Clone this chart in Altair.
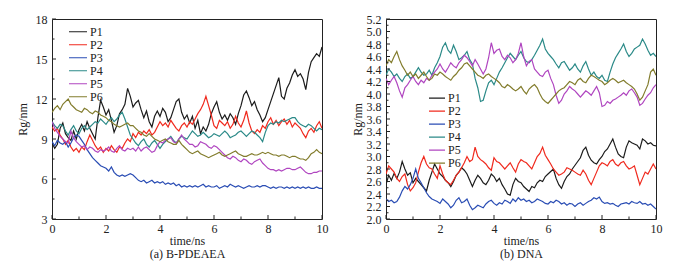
import altair as alt
import pandas as pd

T = [round(i * 0.1, 1) for i in range(101)]
NAMES = ["P1", "P2", "P3", "P4", "P5", "P6"]
COLORS = ["#1c1c1c", "#f02a1e", "#2a4db4", "#2b8a88", "#b046c0", "#827c2c"]

# (a) B-PDEAEA, Rg/nm, 0..10 ns every 0.1 ns
A_P1 = [8.7, 8.3, 8.6, 9.8, 10.2, 9.4, 9.1, 8.9, 9.6, 9.0, 9.7, 10.1, 9.6, 10.3, 9.8, 9.4, 9.0, 10.6, 11.9, 11.4,
        10.8, 11.2, 10.4, 9.5, 10.0, 10.9, 11.2, 11.6, 12.8, 12.2, 11.4, 11.7, 11.9, 11.2, 10.6, 11.1, 10.3, 9.9, 10.7, 11.1,
        10.7, 11.3, 11.0, 10.3, 10.6, 11.2, 11.8, 12.0, 11.0, 10.5, 10.8, 10.2, 10.7, 9.8, 10.4, 9.4, 9.9, 9.6, 10.1, 10.9,
        11.4, 11.8, 11.0, 10.5, 10.8, 10.4, 10.9, 10.6, 10.1, 10.9, 11.5, 12.3, 12.6, 12.1, 11.5, 11.8, 11.2, 10.8, 10.3, 10.6,
        11.2, 11.8, 12.4, 13.0, 13.6, 12.2, 12.0, 12.8, 13.2, 13.8, 14.2, 13.7, 13.9, 13.5, 12.7, 14.0, 14.8, 15.1, 15.4, 15.2,
        15.9]
A_P2 = [9.9, 9.6, 9.8, 9.3, 9.0, 8.6, 8.9, 8.4, 8.1, 8.3, 8.0, 8.4, 8.2, 8.8, 9.3, 8.9, 8.5, 8.2, 8.4, 8.0,
        8.3, 8.1, 8.5, 8.2, 8.0, 8.4, 8.3, 8.7, 9.0, 8.8, 9.4, 9.1, 9.5, 9.3, 9.6, 9.4, 9.7, 9.3, 9.5, 9.9,
        10.3, 10.0, 10.2, 9.9, 10.4, 10.1, 9.8, 9.6, 10.0, 10.2, 9.9, 10.3, 10.1, 10.5, 10.9, 11.2, 11.6, 12.2, 11.5, 10.8,
        10.0, 9.8, 10.4, 10.2, 10.0, 10.3, 9.8, 10.1, 10.7, 10.2, 9.9, 10.4, 11.1, 10.2, 9.6, 9.4, 9.7, 9.5, 10.0, 9.8,
        10.3, 10.6, 10.1, 10.4, 10.0, 10.3, 10.5, 10.1, 10.4, 9.9, 10.2, 10.0, 9.8, 9.4, 9.1, 9.6, 9.8, 9.5, 10.0, 10.3,
        9.8]
A_P3 = [8.8, 8.5, 8.9, 8.7, 8.6, 8.8, 8.4, 8.7, 9.1, 9.3, 9.2, 8.9, 8.6, 8.2, 7.9, 7.6, 7.4, 7.2, 7.0, 6.9,
        6.8, 6.6, 6.9, 6.5, 6.3, 6.2, 6.3, 6.2, 6.3, 6.4, 6.3, 6.1, 5.9, 5.8, 5.9, 5.7, 5.8, 5.9, 5.7, 5.8,
        5.7, 5.8, 5.6, 5.7, 5.6, 5.7, 5.5, 5.6, 5.4, 5.5, 5.4, 5.5, 5.4, 5.5, 5.4, 5.5, 5.6, 5.4, 5.5, 5.4,
        5.4, 5.5, 5.3, 5.4, 5.5, 5.4, 5.6, 5.5, 5.4, 5.5, 5.4, 5.3, 5.4, 5.5, 5.4, 5.4, 5.5, 5.4, 5.5, 5.5,
        5.4, 5.3, 5.4, 5.3, 5.4, 5.4, 5.3, 5.4, 5.3, 5.4, 5.3, 5.4, 5.3, 5.4, 5.3, 5.4, 5.3, 5.3, 5.4, 5.3,
        5.3]
A_P4 = [10.3, 10.0, 9.8, 10.1, 10.0, 9.6, 9.3, 9.7, 10.0, 9.6, 9.4, 9.8, 10.0, 9.7, 9.9, 10.1, 10.3, 10.2, 10.5, 10.3,
        10.1, 10.4, 10.6, 10.3, 10.5, 10.8, 11.0, 10.5, 9.9, 9.3, 9.0, 8.7, 8.5, 8.8, 9.0, 8.6, 8.4, 8.7, 8.9, 8.6,
        8.3, 8.6, 8.8, 9.0, 9.2, 8.9, 8.7, 9.0, 9.2, 9.1, 9.0, 9.3, 9.6, 9.4, 9.2, 9.3, 9.5, 9.3, 9.1, 9.2,
        9.4, 9.3, 9.2, 9.4, 9.6, 9.4, 9.1, 9.2, 9.3, 9.5, 9.6, 9.4, 9.2, 9.4, 9.6, 9.5, 9.3, 9.1, 8.8, 9.5,
        10.0, 10.2, 10.1, 10.3, 10.2, 10.4, 10.3, 10.4, 10.5, 10.6, 10.6, 10.3, 10.1, 10.0, 9.9, 10.1, 10.0, 9.8, 9.6, 9.8,
        9.7]
A_P5 = [10.3, 9.8, 9.5, 9.2, 9.0, 8.8, 8.7, 9.6, 9.1, 8.8, 8.6, 8.4, 8.5, 8.2, 8.4, 8.3, 8.1, 8.0, 8.2, 8.1,
        8.2, 8.4, 8.1, 8.0, 8.3, 8.5, 8.2, 8.1, 8.3, 8.2, 8.3, 8.1, 8.4, 8.1, 8.3, 8.4, 8.2, 8.0, 8.1, 8.5,
        8.8, 8.7, 8.9, 9.0, 9.1, 8.8, 8.7, 9.0, 9.3, 9.0, 8.8, 8.6, 8.6, 8.4, 8.5, 8.8, 8.7, 8.6, 8.4, 8.3,
        8.5, 8.4, 8.2, 8.0, 7.8, 7.6, 7.5, 7.7, 7.6, 7.4, 7.3, 7.5, 7.4, 7.2, 7.1, 7.3, 7.4, 7.5, 7.2, 7.0,
        6.8, 6.7, 6.7, 6.6, 6.7, 6.6, 6.7, 6.8, 6.8, 6.7, 6.7, 6.8, 6.9, 6.7, 6.5, 6.4, 6.4, 6.5, 6.5, 6.6,
        6.6]
A_P6 = [11.0, 11.3, 11.5, 11.2, 11.6, 11.8, 12.0, 11.6, 11.4, 11.2, 11.1, 11.0, 11.3, 11.2, 11.0, 10.9, 11.1, 11.0, 10.8, 10.7,
        10.6, 10.4, 10.3, 10.1, 10.0, 9.9, 10.0, 10.1, 10.2, 10.0, 10.0, 9.8, 9.6, 9.5, 9.3, 9.2, 9.4, 9.2, 9.0, 8.9,
        8.8, 8.9, 9.0, 8.8, 8.7, 8.6, 8.6, 8.9, 8.6, 8.4, 8.2, 8.0, 7.9, 8.0, 8.1, 7.9, 7.8, 7.7, 7.6, 7.7,
        7.8, 7.9, 8.0, 7.8, 7.7, 7.8, 7.9, 8.0, 8.1, 7.9, 7.8, 7.7, 7.7, 7.8, 7.9, 7.8, 7.8, 7.9, 8.0, 7.9,
        8.0, 7.9, 7.8, 7.8, 7.7, 7.8, 7.8, 7.7, 7.6, 7.7, 7.7, 7.6, 7.5, 7.5, 7.4, 7.6, 7.9, 8.0, 8.2, 8.0,
        7.9]

# (b) DNA, Rg/nm
B_P1 = [2.55, 2.70, 2.62, 2.73, 2.65, 2.75, 2.92, 2.80, 2.70, 2.74, 2.58, 2.65, 2.60, 2.55, 2.50, 2.45, 2.62, 2.75, 2.88, 2.80,
        2.72, 2.68, 2.62, 2.58, 2.52, 2.60, 2.70, 2.75, 2.82, 2.78, 2.72, 2.62, 2.52, 2.62, 2.70, 2.65, 2.58, 2.55, 2.62, 2.72,
        2.68, 2.60, 2.65, 2.55, 2.48, 2.40, 2.38, 2.55, 2.65, 2.60, 2.58, 2.52, 2.48, 2.44, 2.52, 2.50, 2.58, 2.62, 2.60, 2.68,
        2.72, 2.76, 2.80, 2.65, 2.55, 2.49, 2.60, 2.68, 2.72, 2.80, 2.86, 2.92, 2.98, 3.10, 3.15, 3.02, 2.94, 2.90, 2.88, 2.95,
        3.00, 3.08, 3.12, 3.20, 3.28, 3.15, 3.04, 3.00, 2.98, 3.15, 3.25, 3.22, 3.20, 3.18, 3.12, 3.28, 3.25, 3.20, 3.22, 3.18,
        3.17]
B_P2 = [2.72, 2.85, 2.80, 2.75, 2.65, 2.60, 2.68, 2.72, 2.55, 2.45, 2.50, 2.58, 2.75, 2.90, 3.00, 2.88, 2.82, 2.80, 2.72, 2.65,
        2.85, 2.72, 2.62, 2.58, 2.55, 2.62, 2.70, 2.75, 2.82, 2.90, 3.00, 2.92, 2.95, 3.15, 3.00, 2.95, 2.92, 2.88, 2.82, 2.78,
        2.98, 2.92, 2.90, 2.85, 2.80, 2.85, 2.90, 2.82, 2.75, 2.88, 2.95, 2.92, 2.90, 2.85, 2.80, 2.90, 3.00, 3.05, 3.15, 3.02,
        2.95, 2.88, 2.80, 2.75, 2.70, 2.72, 2.75, 2.82, 2.80, 2.78, 2.75, 2.72, 2.70, 2.78, 2.72, 2.62, 2.55, 2.65, 2.75, 2.85,
        2.90, 2.88, 2.85, 2.92, 2.95, 2.88, 2.85, 2.90, 2.92, 2.85, 2.80, 2.82, 2.85, 2.70, 2.55, 2.65, 2.75, 2.72, 2.80, 2.88,
        2.80]
B_P3 = [2.32, 2.28, 2.30, 2.26, 2.28, 2.35, 2.45, 2.52, 2.48, 2.55, 2.65, 2.80, 2.65, 2.58, 2.50, 2.42, 2.36, 2.32, 2.30, 2.28,
        2.25, 2.32, 2.28, 2.24, 2.18, 2.22, 2.30, 2.34, 2.26, 2.28, 2.32, 2.22, 2.15, 2.18, 2.22, 2.20, 2.18, 2.24, 2.28, 2.30,
        2.25, 2.22, 2.26, 2.24, 2.30, 2.28, 2.25, 2.32, 2.28, 2.34, 2.30, 2.32, 2.28, 2.30, 2.26, 2.28, 2.32, 2.30, 2.28, 2.25,
        2.24, 2.28, 2.26, 2.30, 2.28, 2.24, 2.26, 2.22, 2.25, 2.24, 2.20, 2.24, 2.26, 2.22, 2.25, 2.28, 2.30, 2.34, 2.32, 2.35,
        2.28, 2.25, 2.26, 2.24, 2.25, 2.22, 2.20, 2.24, 2.25, 2.26, 2.24, 2.28, 2.26, 2.25, 2.28, 2.24, 2.25, 2.22, 2.24, 2.20,
        2.16]
B_P4 = [4.30, 4.40, 4.35, 4.28, 4.32, 4.25, 4.20, 4.28, 4.32, 4.25, 4.28, 4.35, 4.42, 4.35, 4.30, 4.32, 4.38, 4.30, 4.42, 4.50,
        4.60, 4.75, 4.82, 4.70, 4.65, 4.78, 4.68, 4.55, 4.58, 4.62, 4.68, 4.55, 4.48, 4.25, 4.10, 3.88, 3.90, 4.05, 4.18, 4.22,
        4.15, 4.25, 4.35, 4.42, 4.50, 4.58, 4.65, 4.60, 4.55, 4.62, 4.68, 4.58, 4.52, 4.50, 4.55, 4.62, 4.70, 4.78, 4.88, 4.72,
        4.65, 4.60, 4.55, 4.48, 4.42, 4.50, 4.52, 4.45, 4.38, 4.42, 4.48, 4.40, 4.35, 4.45, 4.52, 4.40, 4.30, 4.35, 4.28, 4.25,
        4.30, 4.22, 4.20, 4.35, 4.48, 4.58, 4.65, 4.72, 4.80, 4.68, 4.60, 4.65, 4.72, 4.75, 4.78, 4.88, 4.80, 4.70, 4.62, 4.65,
        4.60]
B_P5 = [4.25, 4.15, 4.22, 4.28, 4.18, 4.05, 3.95, 4.10, 4.15, 4.22, 4.28, 4.20, 4.15, 4.22, 4.18, 4.25, 4.22, 4.30, 4.35, 4.40,
        4.48, 4.40, 4.35, 4.42, 4.50, 4.45, 4.42, 4.50, 4.55, 4.62, 4.58, 4.52, 4.45, 4.55, 4.48, 4.40, 4.32, 4.40, 4.58, 4.82,
        4.65, 4.70, 4.72, 4.60, 4.55, 4.62, 4.58, 4.50, 4.55, 4.65, 4.82, 4.60, 4.45, 4.52, 4.55, 4.40, 4.35, 4.30, 4.28, 4.35,
        4.38, 4.25, 4.15, 3.98, 3.85, 3.90, 4.00, 4.05, 4.12, 4.08, 4.05, 4.00, 3.95, 4.00, 4.05, 4.02, 3.98, 4.05, 4.12, 4.02,
        3.80, 3.82, 3.88, 3.85, 3.90, 3.92, 3.95, 3.98, 4.02, 3.98, 4.05, 4.08, 4.02, 3.95, 3.82, 3.85, 3.92, 3.98, 4.02, 4.10,
        4.15]
B_P6 = [4.45, 4.55, 4.50, 4.60, 4.68, 4.55, 4.45, 4.38, 4.30, 4.35, 4.28, 4.32, 4.25, 4.30, 4.35, 4.28, 4.22, 4.25, 4.32, 4.30,
        4.35, 4.32, 4.28, 4.25, 4.22, 4.28, 4.32, 4.38, 4.42, 4.48, 4.50, 4.45, 4.40, 4.35, 4.30, 4.28, 4.25, 4.30, 4.32, 4.28,
        4.25, 4.22, 4.18, 4.12, 4.10, 4.15, 4.12, 4.08, 4.05, 4.08, 4.12, 4.05, 4.00, 4.08, 4.12, 4.15, 4.10, 4.00, 3.92, 3.88,
        3.85, 3.90, 3.95, 4.00, 4.05, 4.08, 4.10, 4.15, 4.20, 4.18, 4.15, 4.22, 4.25, 4.20, 4.18, 4.25, 4.30, 4.28, 4.25, 4.22,
        4.20, 4.15, 4.18, 4.22, 4.25, 4.22, 4.18, 4.20, 4.22, 4.18, 4.15, 4.12, 4.08, 4.00, 3.90, 3.95, 4.05, 4.15, 4.35, 4.40,
        4.30]

X_MAJOR = [0, 2, 4, 6, 8, 10]
X_MINOR = [1, 3, 5, 7, 9]
A_Y_MAJOR = [3, 6, 9, 12, 15, 18]
A_Y_MINOR = [4.5, 7.5, 10.5, 13.5, 16.5]
B_Y_MAJOR = [2.0, 2.2, 2.4, 2.6, 2.8, 3.0, 3.2, 3.4, 3.6, 3.8, 4.0, 4.2, 4.4, 4.6, 4.8, 5.0, 5.2]
B_Y_MINOR = [2.1, 2.3, 2.5, 2.7, 2.9, 3.1, 3.3, 3.5, 3.7, 3.9, 4.1, 4.3, 4.5, 4.7, 4.9, 5.1]

FONT = "Liberation Serif"
W, H = 270, 200


def long_df(series):
    rows = []
    for name, vals in zip(NAMES, series):
        for t, v in zip(T, vals):
            rows.append({"t": t, "v": v, "s": name})
    return pd.DataFrame(rows)


def panel(series, ydom, ymajor, yminor, yfmt, caption, lx, ly, symsize, ytp):
    xs = alt.Scale(domain=[0, 10], nice=False)
    ys = alt.Scale(domain=ydom, nice=False, zero=False)
    xax = alt.Axis(values=X_MAJOR, format="d", title=["time/ns", caption],
                   labelFlush=False, labelPadding=4, titlePadding=1, titleLineHeight=13)
    yax = alt.Axis(values=ymajor, format=yfmt, title="Rg/nm", labelPadding=5, titlePadding=ytp)
    lines = alt.Chart(long_df(series)).mark_line(strokeWidth=1.2, clip=True).encode(
        x=alt.X("t:Q", scale=xs, axis=xax),
        y=alt.Y("v:Q", scale=ys, axis=yax),
        color=alt.Color("s:N", scale=alt.Scale(domain=NAMES, range=COLORS),
                        legend=alt.Legend(orient="none", legendX=lx, legendY=ly, title=None,
                                          symbolType="stroke", symbolSize=symsize, symbolStrokeWidth=1.2,
                                          labelFont=FONT, labelFontSize=12, labelColor="#222",
                                          clipHeight=10.7, rowPadding=0, labelOffset=2, padding=0)),
        order=alt.Order("t:Q"),
    )

    def xt(vals, ln):
        return alt.Chart(pd.DataFrame({"t": vals})).mark_rule(color="#222", strokeWidth=1).encode(
            x=alt.X("t:Q", scale=xs, axis=xax), y=alt.value(H), y2=alt.value(H - ln))

    def yt(vals, ln):
        return alt.Chart(pd.DataFrame({"v": vals})).mark_rule(color="#222", strokeWidth=1).encode(
            y=alt.Y("v:Q", scale=ys, axis=yax), x=alt.value(0), x2=alt.value(ln))

    return alt.layer(lines, xt(X_MAJOR, 4), xt(X_MINOR, 2.5), yt(ymajor, 4), yt(yminor, 2.5)).properties(
        width=W, height=H)


left = panel([A_P1, A_P2, A_P3, A_P4, A_P5, A_P6], [3, 18], A_Y_MAJOR, A_Y_MINOR, "d",
             "(a) B-PDEAEA", 16, 7.4, 324, 6)
right = panel([B_P1, B_P2, B_P3, B_P4, B_P5, B_P6], [2.0, 5.2], B_Y_MAJOR, B_Y_MINOR, ".1f",
              "(b) DNA", 42, 73.7, 256, 2)

chart = alt.hconcat(left, right, spacing=21).resolve_scale(
    color="independent", x="independent", y="independent").resolve_legend(color="independent").properties(
    padding={"left": 15, "top": 12, "right": 5, "bottom": 5}, background="white"
).configure_view(stroke="#222", strokeWidth=1).configure_axis(
    domain=False, ticks=False, grid=False, labelFont=FONT, labelFontSize=12, labelColor="#222",
    titleFont=FONT, titleFontSize=12, titleFontWeight="normal", titleColor="#222")

chart.save("out.html", embed_options={"renderer": "svg", "actions": False})
